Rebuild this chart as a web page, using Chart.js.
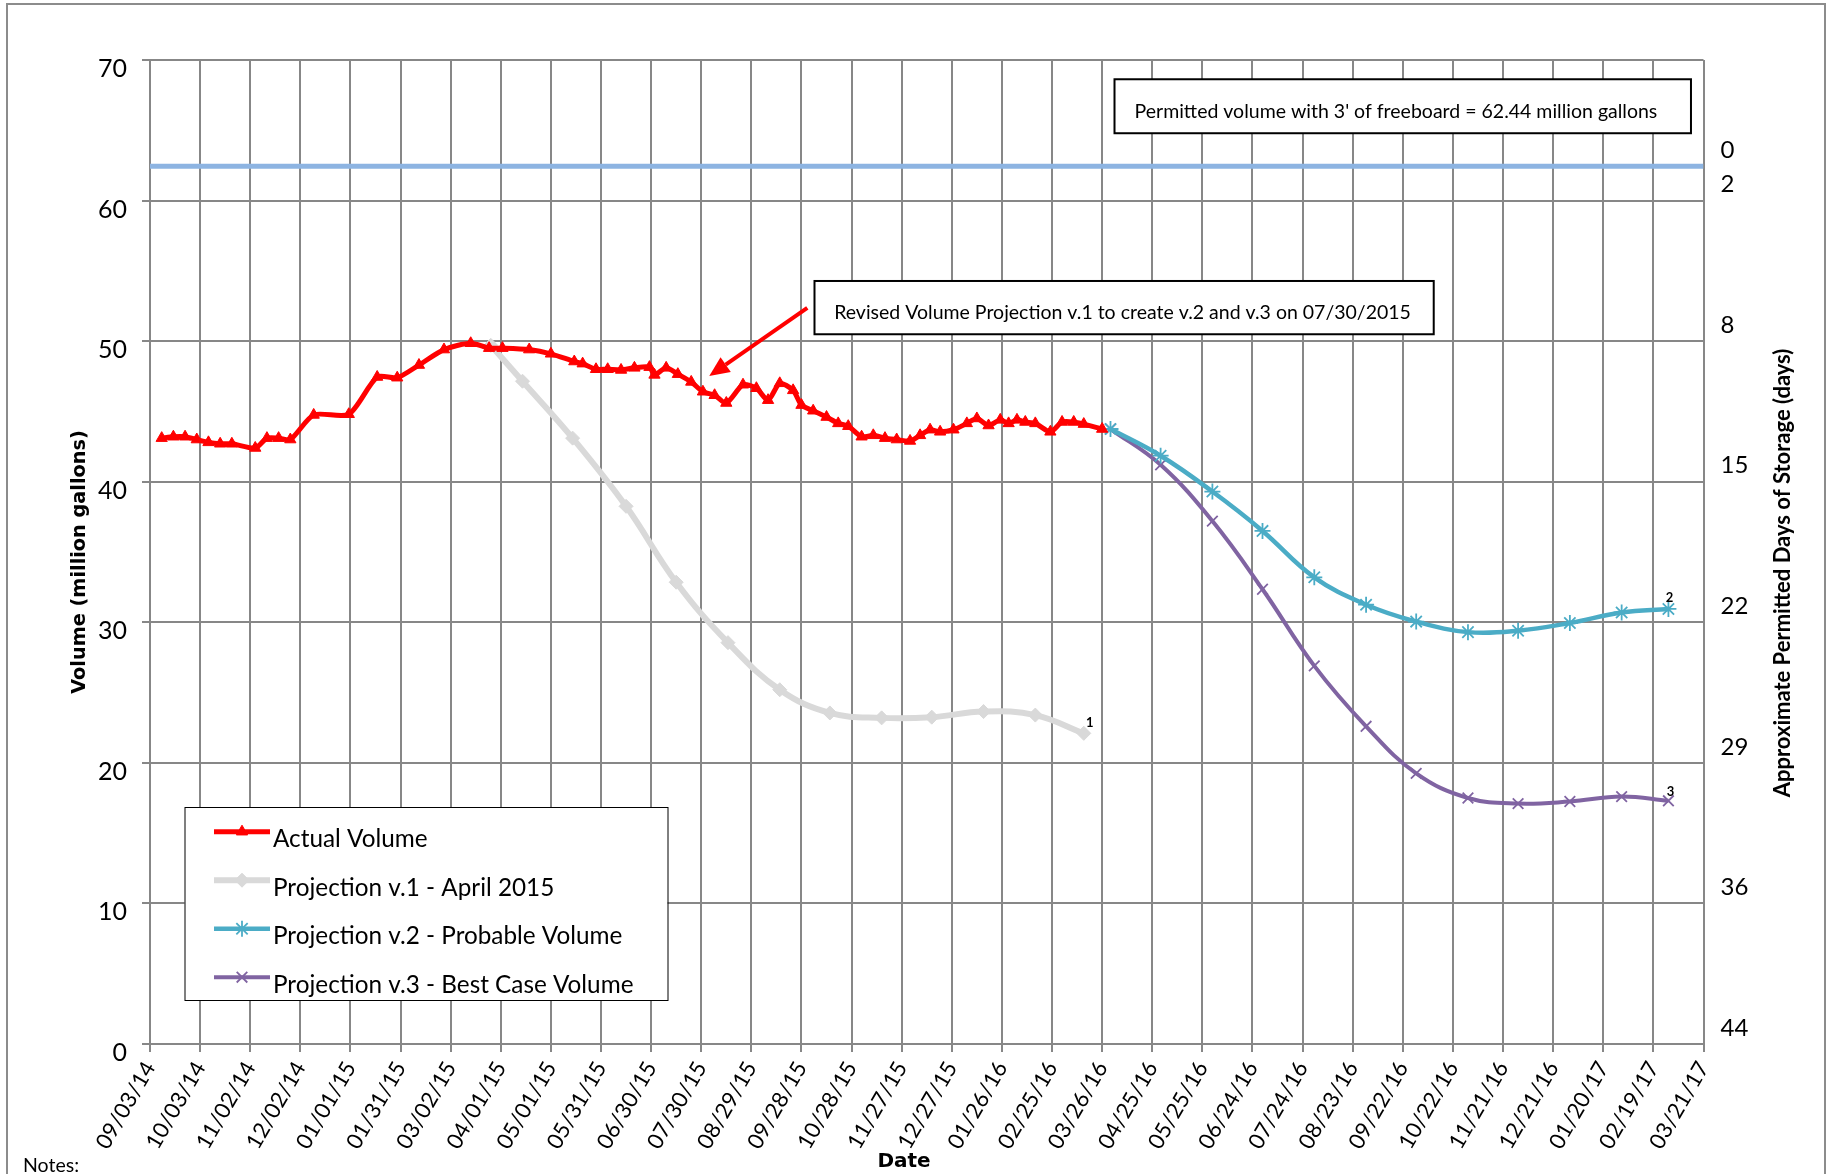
<!DOCTYPE html>
<html>
<head>
<meta charset="utf-8">
<script src="https://cdn.jsdelivr.net/npm/chart.js@4.4.1/dist/chart.umd.min.js"></script>
<style>
  html, body { margin: 0; padding: 0; background: #ffffff; }
  #wrap { width: 1833px; height: 1174px; position: relative; }
</style>
</head>
<body>
<div id="wrap"><canvas id="c" width="1833" height="1174"></canvas></div>
<script>
// ---------------- DATA ----------------
const axisStartDate = '09/03/14';
const axisEndDate = '03/21/17';
const xTickStepDays = 30;

const actualDates = ['09/10/14','09/17/14','09/24/14','10/01/14','10/08/14','10/15/14','10/22/14','11/05/14','11/12/14','11/19/14',
  '11/26/14','12/10/14','12/31/14','01/17/15','01/29/15','02/11/15','02/26/15','03/14/15','03/25/15','04/02/15',
  '04/18/15','05/01/15','05/15/15','05/20/15','05/28/15','06/04/15','06/12/15','06/20/15','06/29/15','07/02/15',
  '07/09/15','07/16/15','07/24/15','07/31/15','08/07/15','08/14/15','08/24/15','09/01/15','09/08/15','09/15/15',
  '09/23/15','09/28/15','10/05/15','10/13/15','10/20/15','10/26/15','11/03/15','11/10/15','11/17/15','11/24/15',
  '12/02/15','12/08/15','12/14/15','12/20/15','12/28/15','01/05/16','01/11/16','01/18/16','01/25/16','01/30/16',
  '02/04/16','02/09/16','02/15/16','02/24/16','03/02/16','03/09/16','03/15/16','03/26/16'];
const actualVolume = [43.1,43.2,43.2,43.0,42.8,42.7,42.7,42.4,43.1,43.1,
  43.0,44.75,44.8,47.45,47.4,48.3,49.4,49.85,49.5,49.5,
  49.4,49.1,48.55,48.4,48.0,48.0,47.95,48.1,48.15,47.6,
  48.1,47.65,47.1,46.4,46.15,45.6,46.9,46.65,45.8,47.0,
  46.5,45.45,45.05,44.6,44.15,43.95,43.2,43.3,43.1,43.0,
  42.9,43.3,43.7,43.55,43.7,44.15,44.5,44.0,44.4,44.15,
  44.4,44.25,44.15,43.55,44.25,44.25,44.1,43.75];

const projV1Dates = ['03/26/15','04/14/15','05/14/15','06/15/15','07/15/15','08/15/15','09/15/15','10/15/15','11/15/15','12/15/15','01/15/16','02/15/16','03/15/16'];
const projV1Volume = [49.7,47.15,43.1,38.25,32.85,28.55,25.2,23.55,23.2,23.25,23.65,23.4,22.1];

const projDates = ['03/31/16','04/30/16','05/31/16','06/30/16','07/31/16','08/31/16','09/30/16','10/31/16','11/30/16','12/31/16','01/31/17','02/28/17'];
const projV2Volume = [43.75,41.85,39.3,36.5,33.2,31.25,30.05,29.3,29.4,29.95,30.7,30.95];
const projV3Volume = [43.75,41.2,37.2,32.35,26.9,22.6,19.25,17.5,17.1,17.25,17.6,17.3];

const permittedVolume = 62.44;

const seriesNames = ['Actual Volume','Projection v.1 - April 2015','Projection v.2 - Probable Volume','Projection v.3 - Best Case Volume'];
const endLabels = ['', '1', '2', '3'];

const volumeMin = 0, volumeMax = 70, volumeStep = 10;
const storageDays = [0, 2, 8, 15, 22, 29, 36, 44];
const storageDayVolumes = [62.44, 60, 50, 40, 30, 20, 10, 0];

const permittedNote = "Permitted volume with 3' of freeboard = 62.44 million gallons";
const revisedNote = 'Revised Volume Projection v.1 to create v.2 and v.3 on 07/30/2015';

// ---------------- HELPERS ----------------
function parseMDY(s) { const [m, d, y] = s.split('/').map(Number); return Date.UTC(2000 + y, m - 1, d); }
const DAY = 86400000;
const t0 = parseMDY(axisStartDate);
function dayOf(s) { return Math.round((parseMDY(s) - t0) / DAY); }
function fmtDay(v) {
  const dt = new Date(t0 + v * DAY);
  const p = n => String(n).padStart(2, '0');
  return p(dt.getUTCMonth() + 1) + '/' + p(dt.getUTCDate()) + '/' + p(dt.getUTCFullYear() % 100);
}
const xMax = dayOf(axisEndDate);
const pts = (dates, vals) => dates.map((d, i) => ({ x: dayOf(d), y: vals[i] }));

const GRID = '#878787';
const FONT = 'Lato';

// ---------------- PLUGINS ----------------
const framePlugin = {
  id: 'frame',
  beforeDraw(chart) {
    const ctx = chart.ctx;
    ctx.save();
    ctx.fillStyle = '#ffffff';
    ctx.fillRect(0, 0, chart.width, chart.height);
    ctx.strokeStyle = '#8c8c8c';
    ctx.lineWidth = 2;
    ctx.strokeRect(7, 4, 1818, 1220);
    ctx.restore();
  }
};

const notes = {
  permitted: { x0: 577.4, x1: 922.5, y0: 68.63, y1: 64.79, tx: 589.4, ty: 65.85, text: permittedNote },
  revised: { x0: 397.8, x1: 768.5, y0: 54.28, y1: 50.49, tx: 409.6, ty: 51.55, text: revisedNote },
  arrow: { x0: 393.5, y0: 52.36, x1: 334.8, y1: 47.52 }
};

const annotationPlugin = {
  id: 'notes',
  afterDatasetsDraw(chart) {
    const ctx = chart.ctx, xs = chart.scales.x, ys = chart.scales.y;
    ctx.save();
    [notes.permitted, notes.revised].forEach(b => {
      const l = xs.getPixelForValue(b.x0), r = xs.getPixelForValue(b.x1);
      const t = ys.getPixelForValue(b.y0), bt = ys.getPixelForValue(b.y1);
      ctx.fillStyle = '#fff';
      ctx.fillRect(l, t, r - l, bt - t);
      ctx.strokeStyle = '#000';
      ctx.lineWidth = 2;
      ctx.strokeRect(l, t, r - l, bt - t);
      ctx.fillStyle = '#000';
      ctx.font = '19.5px ' + FONT;
      ctx.textAlign = 'left';
      ctx.textBaseline = 'alphabetic';
      ctx.fillText(b.text, xs.getPixelForValue(b.tx), ys.getPixelForValue(b.ty));
    });
    // arrow
    const a = notes.arrow;
    const sx = xs.getPixelForValue(a.x0), sy = ys.getPixelForValue(a.y0);
    const ex = xs.getPixelForValue(a.x1), ey = ys.getPixelForValue(a.y1);
    const ang = Math.atan2(ey - sy, ex - sx);
    const headL = 20, headW = 9;
    const bx = ex - Math.cos(ang) * headL, by = ey - Math.sin(ang) * headL;
    ctx.strokeStyle = '#ff0000';
    ctx.lineWidth = 4;
    ctx.beginPath(); ctx.moveTo(sx, sy); ctx.lineTo(bx, by); ctx.stroke();
    ctx.fillStyle = '#ff0000';
    ctx.beginPath();
    ctx.moveTo(ex, ey);
    ctx.lineTo(bx + Math.sin(ang) * headW, by - Math.cos(ang) * headW);
    ctx.lineTo(bx - Math.sin(ang) * headW, by + Math.cos(ang) * headW);
    ctx.closePath(); ctx.fill();

    // end labels on projections
    ctx.fillStyle = '#000';
    ctx.font = 'bold 13px ' + FONT;
    ctx.textAlign = 'center';
    ctx.textBaseline = 'middle';
    const offs = [null, [6, -11], [1, -11], [2, -9]];
    endLabels.forEach((lab, i) => {
      if (!lab) return;
      const meta = chart.getDatasetMeta(i);
      const el = meta.data[meta.data.length - 1];
      ctx.fillText(lab, el.x + offs[i][0], el.y + offs[i][1]);
    });
    ctx.restore();
  }
};

const legendPlugin = {
  id: 'customLegend',
  afterDatasetsDraw(chart) {
    const ctx = chart.ctx;
    const box = { l: 184.5, t: 807, r: 667.5, b: 1000 };
    ctx.save();
    ctx.fillStyle = '#fff';
    ctx.fillRect(box.l, box.t, box.r - box.l, box.b - box.t);
    ctx.strokeStyle = '#000';
    ctx.lineWidth = 1;
    ctx.strokeRect(box.l + 0.5, box.t + 0.5, box.r - box.l, box.b - box.t);
    seriesNames.forEach((name, i) => {
      const ds = chart.data.datasets[i];
      const y = 831.7 + i * 48.5;
      ctx.strokeStyle = ds.borderColor;
      ctx.lineWidth = ds.borderWidth;
      ctx.beginPath(); ctx.moveTo(214, y); ctx.lineTo(270, y); ctx.stroke();
      ctx.fillStyle = ds.pointBackgroundColor;
      ctx.strokeStyle = ds.pointBorderColor;
      ctx.lineWidth = ds.pointBorderWidth;
      Chart.helpers.drawPoint(ctx, { pointStyle: ds.pointStyle, radius: ds.pointRadius, borderWidth: ds.pointBorderWidth, rotation: 0 }, 242, y);
      ctx.fillStyle = '#000';
      ctx.font = '24.3px ' + FONT;
      ctx.textAlign = 'left';
      ctx.textBaseline = 'alphabetic';
      ctx.fillText(name, 273, y + 15.5);
    });
    ctx.restore();
  }
};

const titlesPlugin = {
  id: 'titles',
  afterDraw(chart) {
    const ctx = chart.ctx;
    ctx.save();
    ctx.fillStyle = '#000';
    ctx.textAlign = 'center';
    ctx.textBaseline = 'alphabetic';
    // left title
    ctx.save();
    ctx.translate(85, 562);
    ctx.rotate(-Math.PI / 2);
    ctx.font = 'bold 19.3px "DejaVu Sans"';
    ctx.fillText('Volume (million gallons)', 0, 0);
    ctx.restore();
    // right title
    ctx.save();
    ctx.translate(1790, 573);
    ctx.rotate(-Math.PI / 2);
    ctx.font = 'bold 22px ' + FONT;
    ctx.fillText('Approximate Permitted Days of Storage (days)', 0, 0);
    ctx.restore();
    // x title
    ctx.font = 'bold 20px "DejaVu Sans"';
    ctx.fillText('Date', 904, 1167);
    // notes
    ctx.textAlign = 'left';
    ctx.font = '19.5px ' + FONT;
    ctx.fillText('Notes:', 23, 1172);
    ctx.restore();
  }
};

// ---------------- CHART ----------------
const ctx = document.getElementById('c').getContext('2d');
new Chart(ctx, {
  type: 'line',
  data: {
    datasets: [
      {
        label: seriesNames[0], data: pts(actualDates, actualVolume),
        borderColor: '#ff0000', borderWidth: 5, tension: 0.25,
        pointStyle: 'triangle', pointRadius: 6.5, pointBackgroundColor: '#ff0000', pointBorderColor: '#ff0000', pointBorderWidth: 1
      },
      {
        label: seriesNames[1], data: pts(projV1Dates, projV1Volume),
        borderColor: '#d9d9d9', borderWidth: 6, tension: 0.4,
        pointStyle: 'rectRot', pointRadius: 7, pointBackgroundColor: '#d9d9d9', pointBorderColor: '#d9d9d9', pointBorderWidth: 1
      },
      {
        label: seriesNames[2], data: pts(projDates, projV2Volume),
        borderColor: '#4bacc6', borderWidth: 4.5, tension: 0.4,
        pointStyle: 'star', pointRadius: 8, pointBackgroundColor: '#4bacc6', pointBorderColor: '#4bacc6', pointBorderWidth: 1.8
      },
      {
        label: seriesNames[3], data: pts(projDates, projV3Volume),
        borderColor: '#8064a2', borderWidth: 4, tension: 0.4,
        pointStyle: 'crossRot', pointRadius: 7.5, pointBackgroundColor: '#8064a2', pointBorderColor: '#8064a2', pointBorderWidth: 1.8
      },
      {
        label: 'Permitted volume', data: [{ x: 0, y: permittedVolume }, { x: xMax, y: permittedVolume }],
        borderColor: '#8db4e2', borderWidth: 5, pointRadius: 0, tension: 0
      }
    ]
  },
  options: {
    responsive: false,
    maintainAspectRatio: false,
    animation: false,
    devicePixelRatio: 1,
    layout: { padding: { top: 60, left: 0, right: 0, bottom: 0 } },
    plugins: { legend: { display: false }, tooltip: { enabled: false } },
    scales: {
      x: {
        type: 'linear', min: 0, max: xMax,
        ticks: {
          stepSize: xTickStepDays, autoSkip: false, minRotation: 60, maxRotation: 60,
          callback: v => fmtDay(v), color: '#000', font: { family: FONT, size: 22 }, padding: 5
        },
        grid: { color: GRID, lineWidth: 2, tickLength: 8, drawTicks: true },
        border: { color: GRID, width: 2 },
        afterFit: s => { s.height = 130; }
      },
      y: {
        position: 'left', min: volumeMin, max: volumeMax,
        ticks: { stepSize: volumeStep, color: '#000', font: { family: FONT, size: 25 }, padding: 15, labelOffset: 9 },
        grid: { color: GRID, lineWidth: 2, tickLength: 8 },
        border: { color: GRID, width: 2 },
        afterFit: s => { s.width = 150; }
      },
      y2: {
        position: 'right', min: volumeMin, max: volumeMax,
        afterBuildTicks: s => { s.ticks = storageDayVolumes.map(v => ({ value: v })); },
        ticks: {
          autoSkip: false, color: '#000', font: { family: FONT, size: 24 }, padding: 17, labelOffset: -16,
          callback: v => storageDays[storageDayVolumes.indexOf(v)]
        },
        grid: { display: false, drawTicks: false },
        border: { display: false },
        afterFit: s => { s.width = 129.5; }
      }
    }
  },
  plugins: [framePlugin, annotationPlugin, legendPlugin, titlesPlugin]
});
</script>
</body>
</html>
